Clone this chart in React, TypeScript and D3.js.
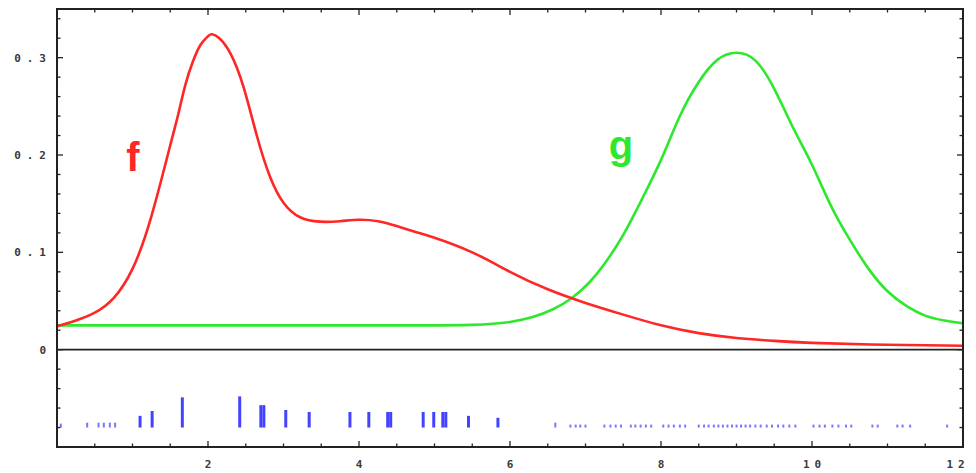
import React from 'react';
import * as d3 from 'd3';

// f: two-bump density (red)
const fX = [0, 0.25, 0.5, 0.75, 1.0, 1.25, 1.5, 1.6, 1.7, 1.8, 1.9, 2.0, 2.05, 2.15, 2.3, 2.47, 2.65, 2.82, 3.0, 3.22, 3.48, 3.75, 4.0, 4.25, 4.5, 4.75, 5.0, 5.5, 6.0, 6.5, 7.0, 7.5, 8.0, 8.5, 9.0, 9.5, 10, 11, 12];
const fY = [0.024, 0.03, 0.038, 0.053, 0.083, 0.137, 0.21, 0.24, 0.272, 0.296, 0.313, 0.322, 0.324, 0.32, 0.304, 0.27, 0.219, 0.178, 0.151, 0.136, 0.1315, 0.132, 0.1335, 0.132, 0.127, 0.121, 0.115, 0.1, 0.08, 0.062, 0.048, 0.036, 0.025, 0.017, 0.012, 0.009, 0.007, 0.005, 0.004];

// g: flat floor with a bump at 9 (green)
const gX = [0, 1.5, 3, 4.5, 5.5, 6.0, 6.3, 6.57, 6.82, 7.05, 7.25, 7.5, 7.75, 8.0, 8.25, 8.5, 8.75, 9.0, 9.25, 9.5, 9.75, 10.0, 10.25, 10.5, 10.75, 11.0, 11.25, 11.5, 11.75, 12];
const gY = [0.025, 0.025, 0.025, 0.025, 0.0255, 0.0285, 0.0335, 0.0415, 0.053, 0.069, 0.088, 0.118, 0.155, 0.195, 0.24, 0.275, 0.298, 0.305, 0.297, 0.268, 0.228, 0.19, 0.148, 0.113, 0.083, 0.06, 0.045, 0.035, 0.03, 0.027];

// rug of sample points below zero: position and line length
const rugX = [0.05, 0.4, 0.55, 0.62, 0.7, 0.77, 1.1, 1.26, 1.66, 2.42, 2.7, 2.74, 3.03, 3.34, 3.88, 4.13, 4.38, 4.42, 4.85, 4.99, 5.11, 5.15, 5.45, 5.84,
  6.6, 6.8, 6.87, 6.93, 7.0, 7.25, 7.33, 7.4, 7.47, 7.6, 7.66, 7.73, 7.8, 7.87, 8.03, 8.1, 8.17, 8.25, 8.32, 8.5, 8.57, 8.63, 8.7, 8.76, 8.82, 8.88, 8.94, 9.0, 9.06, 9.12,
  9.18, 9.25, 9.32, 9.4, 9.47, 9.55, 9.62, 9.7, 9.78, 10.02, 10.1, 10.17, 10.27, 10.35, 10.45, 10.52, 10.8, 10.87, 11.13, 11.2, 11.3, 11.79];
const rugH = [0.004, 0.005, 0.005, 0.005, 0.005, 0.005, 0.012, 0.017, 0.031, 0.032, 0.023, 0.023, 0.018, 0.016, 0.016, 0.016, 0.016, 0.016, 0.016, 0.016, 0.016, 0.016, 0.012, 0.01,
  0.005, 0.003, 0.003, 0.003, 0.003, 0.003, 0.003, 0.003, 0.003, 0.003, 0.003, 0.003, 0.003, 0.003, 0.003, 0.003, 0.003, 0.003, 0.003, 0.003, 0.003, 0.003, 0.003, 0.003, 0.003, 0.003, 0.003, 0.003, 0.003, 0.003,
  0.003, 0.003, 0.003, 0.003, 0.003, 0.003, 0.003, 0.003, 0.003, 0.003, 0.003, 0.003, 0.003, 0.003, 0.003, 0.003, 0.003, 0.003, 0.003, 0.003, 0.003, 0.003];
const rugBase = -0.08;

const xLabels = [2, 4, 6, 8, 10, 12];
const yLabels = [0, 0.1, 0.2, 0.3];

export default function App() {
  const width = 976, height = 473;
  const left = 57, right = 963, top = 9, bottom = 447;
  const x = d3.scaleLinear().domain([0, 12]).range([left, right]);
  const y = d3.scaleLinear().domain([-0.1, 0.35]).range([bottom, top]);

  const line = d3.line<[number, number]>().x((d) => x(d[0])).y((d) => y(d[1])).curve(d3.curveNatural);
  const fPath = line(fX.map((v, i) => [v, fY[i]]) as [number, number][]) || '';
  const gPath = line(gX.map((v, i) => [v, gY[i]]) as [number, number][]) || '';

  const xTicks = x.ticks(24);
  const yTicks = y.ticks(22);
  const isMajorX = (v: number) => Math.abs(v / 2 - Math.round(v / 2)) < 1e-6;
  const isMajorY = (v: number) => Math.abs(v / 0.1 - Math.round(v / 0.1)) < 1e-6;
  const axisColor = '#222';
  const mono = '"DejaVu Sans Mono", monospace';
  const sans = '"Liberation Sans", Arial, sans-serif';

  return (
    <svg width={width} height={height} style={{ position: 'absolute', left: 0, top: 0, background: '#fff' }}>
      {/* rug */}
      {rugX.map((v, i) => (
        <line key={'r' + i} x1={x(v)} x2={x(v)} y1={y(rugBase)} y2={y(rugBase + rugH[i])}
          stroke="#2f2fff" strokeWidth={rugH[i] > 0.006 ? 3 : 2} opacity={rugH[i] > 0.006 ? 0.9 : 0.65} />
      ))}

      {/* zero line */}
      <line x1={left} x2={right} y1={y(0)} y2={y(0)} stroke={axisColor} strokeWidth={1.6} />

      {/* curves */}
      <path d={gPath} fill="none" stroke="#2ee82e" strokeWidth={2.6} />
      <path d={fPath} fill="none" stroke="#ff2626" strokeWidth={2.6} />

      {/* frame ticks */}
      {xTicks.map((v) => {
        const len = isMajorX(v) ? 6 : 3.5;
        return (
          <g key={'xt' + v}>
            <line x1={x(v)} x2={x(v)} y1={bottom} y2={bottom - len} stroke={axisColor} strokeWidth={1.3} />
            <line x1={x(v)} x2={x(v)} y1={top} y2={top + len} stroke={axisColor} strokeWidth={1.3} />
          </g>
        );
      })}
      {yTicks.map((v) => {
        const len = isMajorY(v) ? 6 : 3.5;
        return (
          <g key={'yt' + v}>
            <line x1={left} x2={left + len} y1={y(v)} y2={y(v)} stroke={axisColor} strokeWidth={1.3} />
            <line x1={right} x2={right - len} y1={y(v)} y2={y(v)} stroke={axisColor} strokeWidth={1.3} />
          </g>
        );
      })}
      <rect x={left} y={top} width={right - left} height={bottom - top} fill="none" stroke={axisColor} strokeWidth={2} />

      {/* tick labels */}
      {xLabels.map((v) => (
        <text key={'xl' + v} x={x(v) + (v === 12 ? -5 : 2.5)} y={bottom + 21} textAnchor="middle" fontFamily={mono} fontWeight="bold"
          fontSize={11} letterSpacing={5} fill="#3a3a3a">{v}</text>
      ))}
      {yLabels.map((v) => (
        <text key={'yl' + v} x={left - 5} y={y(v)} dy="0.35em" textAnchor="end" fontFamily={mono} fontWeight="bold"
          fontSize={11} letterSpacing={6} fill="#3a3a3a">{v === 0 ? '0' : v.toFixed(1)}</text>
      ))}

      {/* series labels */}
      <text x={133} y={171} textAnchor="middle" fontFamily={sans} fontWeight="bold" fontSize={40} fill="#ff2626">f</text>
      <text x={621} y={159} textAnchor="middle" fontFamily={sans} fontWeight="bold" fontSize={40} fill="#2ee82e">g</text>
    </svg>
  );
}
